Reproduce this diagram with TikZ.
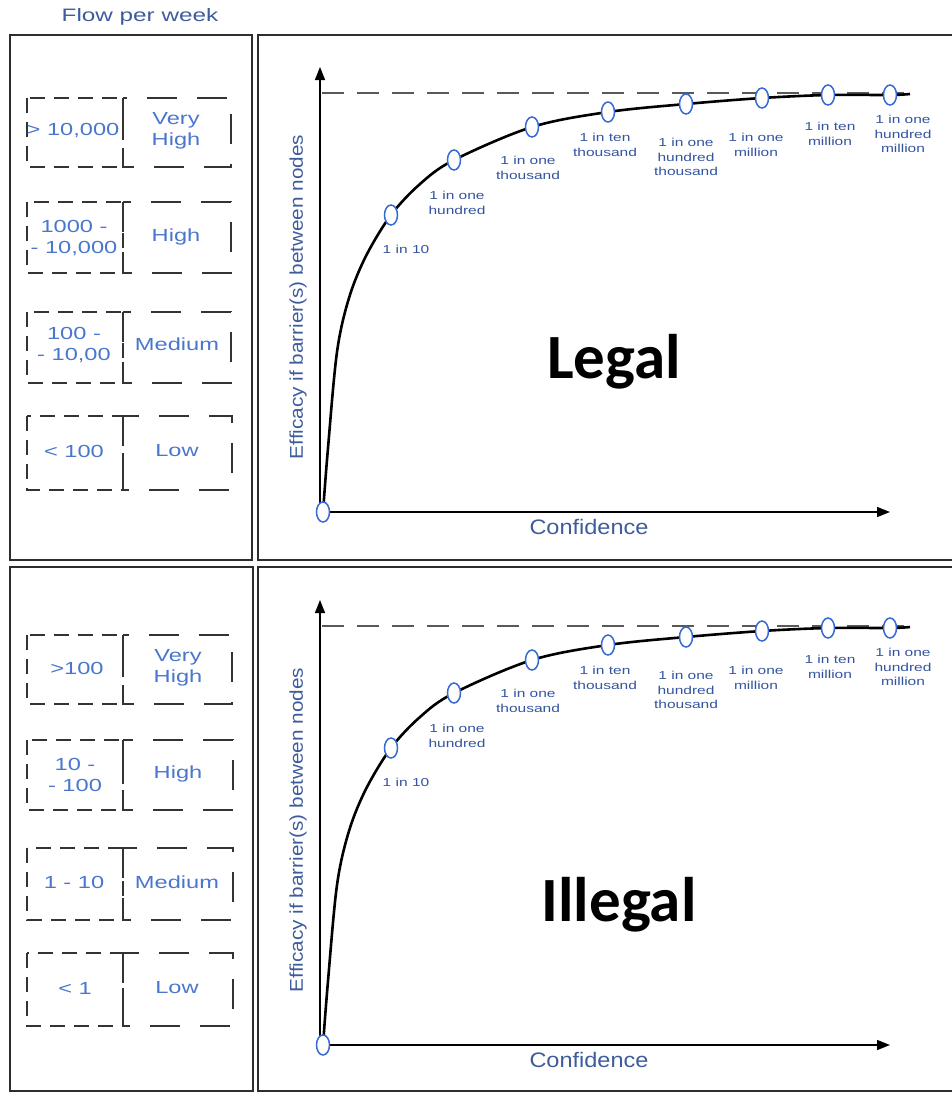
\documentclass[tikz,border=0pt]{standalone}
\usepackage{fontspec}
\usetikzlibrary{shapes.geometric,arrows.meta}
\setmainfont{Liberation Sans}
\newfontfamily\wideA[FakeStretch=1.35]{Liberation Sans}
\newfontfamily\wideB[FakeStretch=1.12]{Liberation Sans}
\newfontfamily\calib[FakeStretch=1.0]{Carlito}
\definecolor{labblue}{RGB}{52,84,160}
\definecolor{boxblue}{RGB}{74,118,205}
\definecolor{axblue}{RGB}{62,92,155}
\definecolor{mkblue}{RGB}{55,105,215}
\definecolor{frame}{RGB}{45,45,45}
\tikzset{
  panel/.style={draw=frame, line width=2.4pt},
  lbox/.style={draw=black!80, line width=1.9pt, dash pattern=on 15pt off 9pt},
  rbox/.style={draw=black!80, line width=1.9pt, dash pattern=on 30pt off 20pt},
  boxtxt/.style={text=boxblue, font=\wideA\fontsize{17.5}{21}\selectfont, align=center, inner sep=0pt},
  ptlab/.style={text=labblue, font=\wideA\fontsize{11.5}{14.5}\selectfont, align=center, inner sep=0pt},
  marker/.style={ellipse, draw=mkblue, fill=white, line width=1.5pt, minimum width=13pt, minimum height=20pt, inner sep=0pt},
  axis/.style={draw=black, line width=1.5pt, -{Triangle[length=13pt,width=10pt]}},
  curve/.style={draw=black, line width=2.6pt},
  asym/.style={draw=black!65, line width=1.5pt, dash pattern=on 22pt off 13pt},
  axlab/.style={text=axblue, inner sep=0pt},
  big/.style={font=\calib\bfseries\fontsize{63}{70}\selectfont, inner sep=0pt}
}
\begin{document}
\begin{tikzpicture}[x=1pt,y=-1pt]
\useasboundingbox (0,0) rectangle (952,1093);
% title
\node[text=axblue, font=\wideA\fontsize{18}{20}\selectfont, inner sep=0pt] (flow) at (140,17) {Flow per week};
% panels
\draw[panel] (10,35) rectangle (252,560);
\draw[panel] (953,35) -- (258,35) -- (258,560) -- (953,560);
\draw[panel] (10,567) rectangle (253,1091);
\draw[panel] (953,567) -- (258,567) -- (258,1091) -- (953,1091);

% ---------- top left boxes ----------
\draw[lbox] (27,98) rectangle (123,167);  \draw[rbox] (123,98) rectangle (231,167);
\draw[lbox] (27,202) rectangle (123,273); \draw[rbox] (123,202) rectangle (231,273);
\draw[lbox] (27,312) rectangle (123,383); \draw[rbox] (123,312) rectangle (231,383);
\draw[lbox] (27,416) rectangle (123,490); \draw[rbox] (123,416) rectangle (232,490);
\node[boxtxt] (ta1) at (73,131) {> 10,000};
\node[boxtxt] (tb1) at (176,131) {Very\\High};
\node[boxtxt] (ta2) at (74,238) {1000 -\\- 10,000};
\node[boxtxt] (tb2) at (176,237) {High};
\node[boxtxt] (ta3) at (74,345) {100 -\\- 10,00};
\node[boxtxt] (tb3) at (177,344) {Medium};
\node[boxtxt] (ta4) at (74,451) {< 100};
\node[boxtxt] (tb4) at (177,451) {Low};

% ---------- bottom left boxes ----------
\draw[lbox] (27,635) rectangle (123,704);  \draw[rbox] (123,635) rectangle (232,704);
\draw[lbox] (27,740) rectangle (123,810);  \draw[rbox] (123,740) rectangle (233,810);
\draw[lbox] (27,848) rectangle (123,920);  \draw[rbox] (123,848) rectangle (233,920);
\draw[lbox] (27,953) rectangle (123,1026); \draw[rbox] (123,953) rectangle (233,1026);
\node[boxtxt] (ba1) at (77,668) {>100};
\node[boxtxt] (bb1) at (178,668) {Very\\High};
\node[boxtxt] (ba2) at (75,775) {10 -\\- 100};
\node[boxtxt] (bb2) at (178,774) {High};
\node[boxtxt] (ba3) at (74,882) {1 - 10};
\node[boxtxt] (bb3) at (177,882) {Medium};
\node[boxtxt] (ba4) at (75,988) {< 1};
\node[boxtxt] (bb4) at (177,988) {Low};

% ---------- charts ----------
\foreach \off/\s/\word/\wx/\wy in {0/a/Legal/614/362,533/b/Illegal/619/905}{
  \coordinate (o\s) at (323,512+\off);
  \coordinate (ytop\s) at (320,67+\off);
  \coordinate (xend\s) at (890,512+\off);
  \coordinate (ybot\s) at (320,512+\off);
  \draw[axis] (ybot\s) -- (ytop\s);
  \draw[axis] (o\s) -- (xend\s);
  \coordinate (d0\s) at (322,93+\off);
  \coordinate (d1\s) at (912,93+\off);
  \draw[asym] (d0\s) -- (d1\s);
  \coordinate (m1\s) at (328,448+\off);
  \coordinate (m2\s) at (337,352+\off);
  \coordinate (m3\s) at (349,298+\off);
  \coordinate (m4\s) at (366,256+\off);
  \coordinate (c1\s) at (391,215+\off);
  \coordinate (m5\s) at (420,184+\off);
  \coordinate (c2\s) at (454,160+\off);
  \coordinate (c3\s) at (532,127+\off);
  \coordinate (c4\s) at (608,112+\off);
  \coordinate (c5\s) at (686,104+\off);
  \coordinate (c6\s) at (762,98+\off);
  \coordinate (c7\s) at (828,95+\off);
  \coordinate (c8\s) at (890,95+\off);
  \coordinate (ce\s) at (910,94+\off);
  \draw[curve] plot[smooth, tension=0.55] coordinates {(o\s) (m1\s) (m2\s) (m3\s) (m4\s) (c1\s) (m5\s) (c2\s) (c3\s) (c4\s) (c5\s) (c6\s) (c7\s) (c8\s) (ce\s)};
  \node[marker] (p0\s) at (o\s) {};
  \foreach \k in {1,...,8}{ \node[marker] (p\k\s) at (c\k\s) {}; }
  \node[ptlab] (l1\s) at (406,249+\off) {1 in 10};
  \node[ptlab] (l2\s) at (457,203+\off) {1 in one\\hundred};
  \node[ptlab] (l3\s) at (528,168+\off) {1 in one\\thousand};
  \node[ptlab] (l4\s) at (605,145+\off) {1 in ten\\thousand};
  \node[ptlab] (l5\s) at (686,157+\off) {1 in one\\hundred\\thousand};
  \node[ptlab] (l6\s) at (756,145+\off) {1 in one\\million};
  \node[ptlab] (l7\s) at (830,134+\off) {1 in ten\\million};
  \node[ptlab] (l8\s) at (903,134+\off) {1 in one\\hundred\\million};
  \node[axlab, font=\wideB\fontsize{18.5}{20}\selectfont, rotate=90] (yl\s) at (298,297+\off) {Efficacy if barrier(s) between nodes};
  \node[axlab, font=\wideB\fontsize{21}{24}\selectfont] (xl\s) at (589,527+\off) {Confidence};
  \node[big] (w\s) at (\wx,\wy) {\word};
}
\end{tikzpicture}
\end{document}
